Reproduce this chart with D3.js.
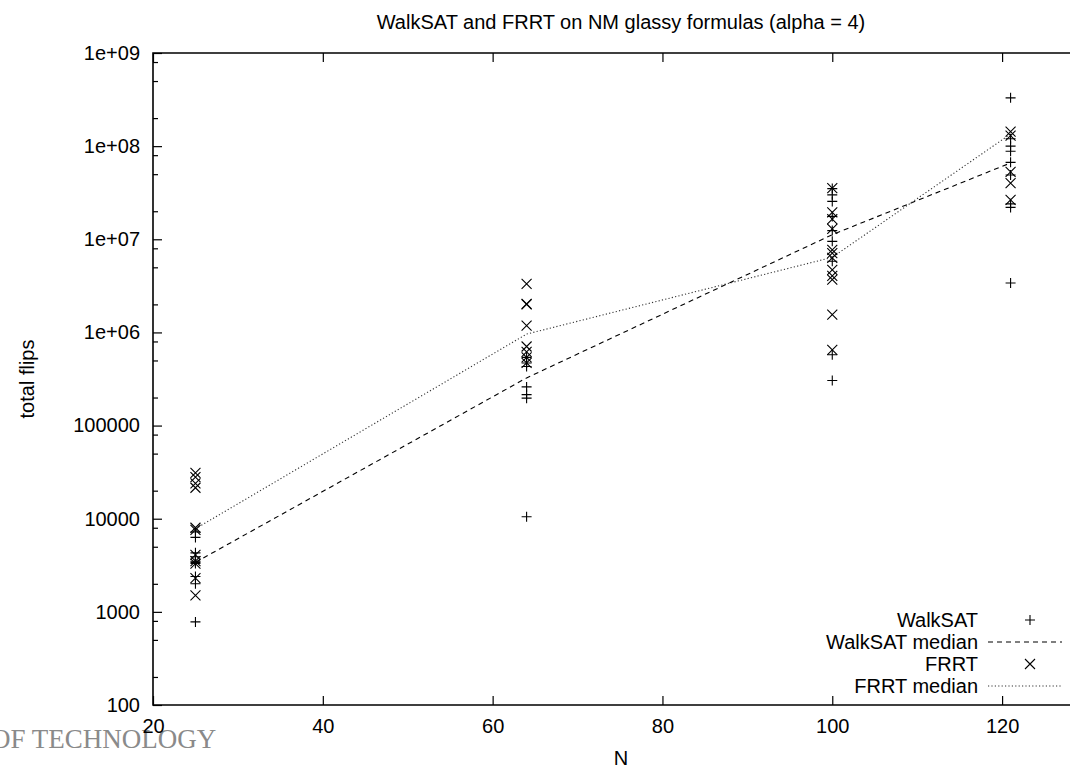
<!DOCTYPE html>
<html>
<head>
<meta charset="utf-8">
<script src="https://cdn.jsdelivr.net/npm/d3@7"></script>
<style>
  html, body { margin: 0; padding: 0; background: #fff; }
  svg { display: block; }
  text { font-family: "Liberation Sans", Arial, Helvetica, sans-serif; }
</style>
</head>
<body>
<svg id="chart" width="1070" height="767"></svg>
<script>
// ---- data ----
const sizes = [25, 64, 100, 121];

const walksatN25  = [7200, 6300, 4300, 3900, 3500, 3400, 3300, 2400, 2000, 780];
const walksatN64  = [540000, 470000, 430000, 260000, 215000, 197000, 10500];
const walksatN100 = [35000000, 30000000, 25500000, 17600000, 12400000, 9500000, 5800000, 575000, 305000];
const walksatN121 = [330000000, 120000000, 100000000, 88000000, 67000000, 49000000, 24000000, 22000000, 3400000];

const frrtN25  = [31000, 28000, 24000, 21500, 8000, 7600, 4100, 3500, 3300, 2300, 1500];
const frrtN64  = [3330000, 2030000, 2000000, 1180000, 706000, 620000, 540000, 470000];
const frrtN100 = [35500000, 19400000, 16500000, 12900000, 7700000, 7100000, 6300000, 4700000, 4050000, 3680000, 1550000, 650000];
const frrtN121 = [143000000, 130000000, 53000000, 40000000, 26500000];

const walksatMedian = [3400, 325000, 11200000, 66000000];
const frrtMedian    = [7800, 960000, 6400000, 135000000];

const xTicks = [20, 40, 60, 80, 100, 120];
const yTicks = [100, 1000, 10000, 100000, 1e6, 1e7, 1e8, 1e9];
const yTickLabels = ["100", "1000", "10000", "100000", "1e+06", "1e+07", "1e+08", "1e+09"];
const yMinorMultipliers = [2, 5, 8];

const titleText = "WalkSAT and FRRT on NM glassy formulas (alpha = 4)";
const xLabel = "N";
const yLabel = "total flips";
const legendLabels = ["WalkSAT", "WalkSAT median", "FRRT", "FRRT median"];
const watermark = "OF TECHNOLOGY";

// ---- layout ----
const svg = d3.select("#chart");
const plotL = 153, plotR = 1087, plotT = 53, plotB = 705;
const fontSize = 20;

const x = d3.scaleLinear().domain([20, 130]).range([plotL, plotR]);
const y = d3.scaleLog().domain([100, 1e9]).range([plotB, plotT]);

svg.append("rect").attr("width", 1070).attr("height", 767).attr("fill", "#fff");

// watermark (cropped text at bottom-left)
svg.append("text")
  .attr("x", -9).attr("y", 748)
  .attr("fill", "#8a8a8a")
  .style("font-family", "'Liberation Serif', 'Times New Roman', serif")
  .style("font-size", "27px")
  .text(watermark);

// minor y ticks
const yMinor = [];
yTicks.slice(0, -1).forEach(t => yMinorMultipliers.forEach(m => yMinor.push(t * m)));

const tickStyle = g => {
  g.select(".domain").remove();
  g.selectAll(".tick line").attr("stroke", "#000").attr("stroke-width", 1.2);
  g.selectAll(".tick text").attr("fill", "#000").style("font-size", fontSize + "px")
    .style("font-family", "'Liberation Sans', Arial, sans-serif");
};

// left axis (major)
svg.append("g").attr("transform", `translate(${plotL},0)`)
  .call(d3.axisLeft(y).tickValues(yTicks).tickSize(-9).tickPadding(13)
    .tickFormat((d, i) => yTickLabels[i]))
  .call(tickStyle);
// left axis (minor)
svg.append("g").attr("transform", `translate(${plotL},0)`)
  .call(d3.axisLeft(y).tickValues(yMinor).tickSize(-5).tickFormat(""))
  .call(tickStyle);
// right mirrored ticks (outside visible area)
svg.append("g").attr("transform", `translate(${plotR},0)`)
  .call(d3.axisRight(y).tickValues(yTicks).tickSize(-9).tickFormat(""))
  .call(tickStyle);

// bottom axis
svg.append("g").attr("transform", `translate(0,${plotB})`)
  .call(d3.axisBottom(x).tickValues(xTicks).tickSize(-9).tickPadding(14).tickFormat(d3.format("d")))
  .call(tickStyle);
// top mirrored ticks
svg.append("g").attr("transform", `translate(0,${plotT})`)
  .call(d3.axisTop(x).tickValues(xTicks).tickSize(-9).tickFormat(""))
  .call(tickStyle);

// frame
svg.append("path")
  .attr("d", `M${plotR},${plotT}H${plotL}V${plotB}H${plotR}V${plotT}`)
  .attr("fill", "none").attr("stroke", "#000").attr("stroke-width", 1.6);

// title and axis labels
svg.append("text").attr("x", 621).attr("y", 29).attr("text-anchor", "middle")
  .style("font-size", fontSize + "px").text(titleText);
svg.append("text").attr("x", 621).attr("y", 765).attr("text-anchor", "middle")
  .style("font-size", fontSize + "px").text(xLabel);
svg.append("text").attr("transform", `translate(34,379) rotate(-90)`).attr("text-anchor", "middle")
  .style("font-size", fontSize + "px").text(yLabel);

// ---- marks ----
const plus = s => `M${-s},0H${s}M0,${-s}V${s}`;
const cross = s => `M${-s},${-s}L${s},${s}M${-s},${s}L${s},${-s}`;

const walksatGroups = [walksatN25, walksatN64, walksatN100, walksatN121];
const frrtGroups = [frrtN25, frrtN64, frrtN100, frrtN121];

const flatten = groups => groups.flatMap((vals, i) => vals.map(v => ({ n: sizes[i], v })));

const lineGen = d3.line().x(d => x(d.n)).y(d => y(d.v));

svg.append("path")
  .datum(sizes.map((n, i) => ({ n, v: walksatMedian[i] })))
  .attr("d", lineGen).attr("fill", "none").attr("stroke", "#000")
  .attr("stroke-width", 1.1).attr("stroke-dasharray", "5,4");

svg.append("path")
  .datum(sizes.map((n, i) => ({ n, v: frrtMedian[i] })))
  .attr("d", lineGen).attr("fill", "none").attr("stroke", "#333")
  .attr("stroke-width", 1.1).attr("stroke-dasharray", "1.2,2.2");

svg.append("g").selectAll("path").data(flatten(walksatGroups)).join("path")
  .attr("transform", d => `translate(${x(d.n)},${y(d.v)})`)
  .attr("d", plus(5)).attr("fill", "none").attr("stroke", "#000").attr("stroke-width", 1.1);

svg.append("g").selectAll("path").data(flatten(frrtGroups)).join("path")
  .attr("transform", d => `translate(${x(d.n)},${y(d.v)})`)
  .attr("d", cross(5)).attr("fill", "none").attr("stroke", "#000").attr("stroke-width", 1.1);

// ---- legend ----
const legendRows = [620, 642, 664, 686];
const legendTextX = 978;
const leg = svg.append("g");
legendLabels.forEach((lab, i) => {
  leg.append("text").attr("x", legendTextX).attr("y", legendRows[i]).attr("dy", "0.35em")
    .attr("text-anchor", "end").style("font-size", fontSize + "px").text(lab);
});
leg.append("path").attr("transform", `translate(1030,${legendRows[0]})`).attr("d", plus(5))
  .attr("fill", "none").attr("stroke", "#000").attr("stroke-width", 1.1);
leg.append("line").attr("x1", 988).attr("x2", 1062).attr("y1", legendRows[1]).attr("y2", legendRows[1])
  .attr("stroke", "#000").attr("stroke-width", 1.1).attr("stroke-dasharray", "5,4");
leg.append("path").attr("transform", `translate(1030,${legendRows[2]})`).attr("d", cross(5))
  .attr("fill", "none").attr("stroke", "#000").attr("stroke-width", 1.1);
leg.append("line").attr("x1", 988).attr("x2", 1062).attr("y1", legendRows[3]).attr("y2", legendRows[3])
  .attr("stroke", "#333").attr("stroke-width", 1.1).attr("stroke-dasharray", "1.2,2.2");
</script>
</body>
</html>
